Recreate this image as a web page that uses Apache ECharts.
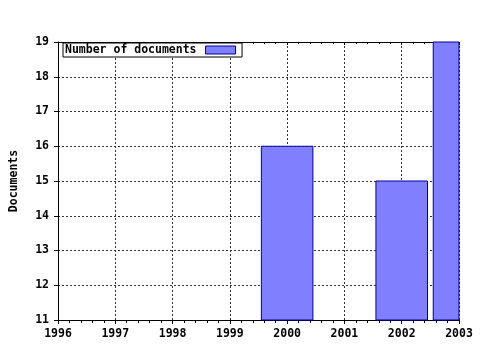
<!DOCTYPE html>
<html>
<head>
<meta charset="utf-8">
<script src="https://cdn.jsdelivr.net/npm/echarts@6/dist/echarts.min.js"></script>
<style>html,body{margin:0;padding:0;background:#fff}#c{width:480px;height:350px}</style>
</head>
<body>
<div id="c"></div>
<script>
var years = [2000, 2002, 2003];
var documents = [16, 15, 19];
var seriesName = 'Number of documents';
var yTitle = 'Documents';
var xMin = 1996, xMax = 2003;
var yMin = 11, yMax = 19;

var font = 'DejaVu Sans Mono';
var barFill = '#8080ff', barEdge = '#0000a0';
var chart = echarts.init(document.getElementById('c'), null, {renderer: 'canvas'});
var data = years.map(function (y, i) { return [y, documents[i]]; });
var grid = '#333';
function fmt(v) { return String(v); }
chart.setOption({
  animation: false,
  backgroundColor: '#fff',
  textStyle: {fontFamily: font, fontWeight: 'bold', color: '#000'},
  grid: {left: 57, right: 21, top: 42, bottom: 30},
  legend: {
    left: 63, top: 43, padding: [1, 6, 1, 2],
    borderColor: '#000', borderWidth: 1, backgroundColor: '#fff',
    align: 'right', itemWidth: 30, itemHeight: 8,
    icon: 'rect',
    itemStyle: {color: barFill, borderColor: barEdge, borderWidth: 1},
    textStyle: {fontFamily: font, fontWeight: 'bold', fontSize: 11.5, color: '#000', padding: [0, 4, 0, 0]},
    data: [seriesName]
  },
  xAxis: [{
    type: 'value', min: xMin, max: xMax, interval: 1, position: 'bottom',
    axisLine: {show: true, lineStyle: {color: '#000', width: 1}},
    axisTick: {show: true, length: 4, inside: false, lineStyle: {color: '#000'}},
    minorTick: {show: true, splitNumber: 5, length: 3, lineStyle: {color: '#000'}},
    axisLabel: {fontFamily: font, fontWeight: 'bold', fontSize: 11.5, color: '#000', margin: 8, formatter: fmt},
    splitLine: {show: true, lineStyle: {color: grid, type: [2, 2], width: 1}}
  }, {
    type: 'value', min: xMin, max: xMax, interval: 1, position: 'top',
    axisLine: {show: true, lineStyle: {color: '#000', width: 1}},
    axisTick: {show: true, length: 3, inside: true, lineStyle: {color: '#000'}},
    minorTick: {show: true, splitNumber: 5, length: 2, lineStyle: {color: '#000'}},
    axisLabel: {show: false},
    splitLine: {show: false}
  }],
  yAxis: {
    type: 'value', min: yMin, max: yMax, interval: 1,
    name: yTitle, nameLocation: 'middle', nameGap: 38,
    nameTextStyle: {fontFamily: font, fontWeight: 'bold', fontSize: 11.5, color: '#000'},
    axisLine: {show: true, lineStyle: {color: '#000', width: 1}},
    axisTick: {show: true, length: 4, lineStyle: {color: '#000'}},
    axisLabel: {fontFamily: font, fontWeight: 'bold', fontSize: 11.5, color: '#000', margin: 9, formatter: fmt},
    splitLine: {show: true, lineStyle: {color: grid, type: [2, 2], width: 1}}
  },
  series: [{
    name: seriesName, type: 'custom', xAxisIndex: 0,
    itemStyle: {color: barFill, borderColor: barEdge, borderWidth: 1},
    encode: {x: 0, y: 1},
    renderItem: function (params, api) {
      var top = api.coord([api.value(0), api.value(1)]);
      var base = api.coord([api.value(0), yMin]);
      var w = api.size([0.9, 0])[0];
      var rect = echarts.graphic.clipRectByRect(
        {x: top[0] - w / 2, y: top[1], width: w, height: base[1] - top[1]},
        {x: params.coordSys.x, y: params.coordSys.y, width: params.coordSys.width, height: params.coordSys.height}
      );
      if (!rect) return null;
      return {
        type: 'rect', shape: rect,
        style: {fill: barFill, stroke: barEdge, lineWidth: 1}
      };
    },
    data: data
  }]
});
</script>
</body>
</html>
